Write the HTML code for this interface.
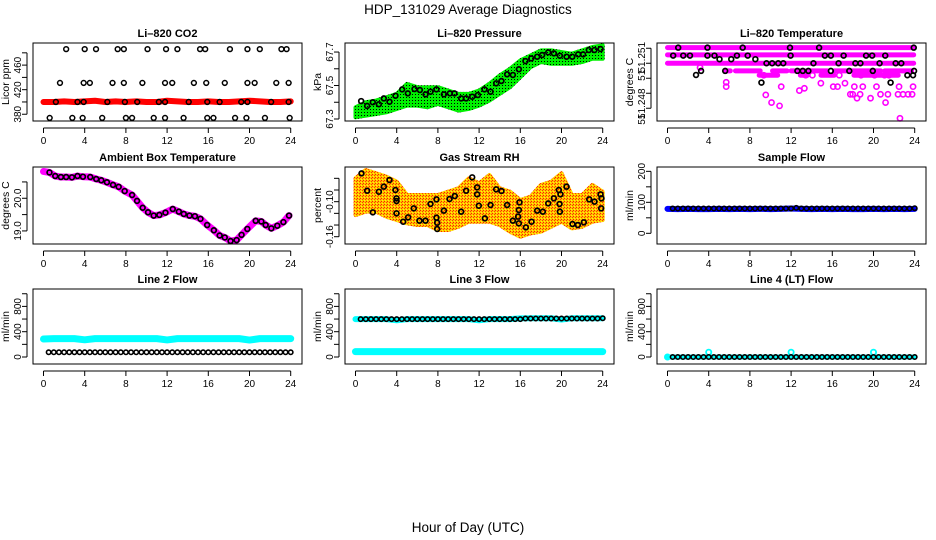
<!DOCTYPE html>
<html><head><meta charset="utf-8"><title>HDP_131029 Average Diagnostics</title>
<style>
html,body{margin:0;padding:0;background:#fff;}
svg{display:block;font-family:"Liberation Sans",sans-serif;}
</style></head>
<body>
<svg id="chart" width="936" height="540" viewBox="0 0 936 540" xmlns="http://www.w3.org/2000/svg">
<defs>
<pattern id="greenDots" width="3" height="3" patternUnits="userSpaceOnUse"><rect width="3" height="3" fill="#00f000"/><rect x="1" y="1" width="1" height="1" fill="#000"/></pattern>
<pattern id="orangeDots" width="3" height="3" patternUnits="userSpaceOnUse"><rect width="3" height="3" fill="#ffc000"/><rect width="1" height="1" fill="#ff2000"/><rect x="2" y="1" width="1" height="1" fill="#ff4000"/><rect x="1" y="2" width="1" height="1" fill="#ffff00"/></pattern>
</defs>
<text x="468" y="14" text-anchor="middle" font-size="13.5">HDP_131029  Average Diagnostics</text>
<text x="468" y="532" text-anchor="middle" font-size="13.5">Hour of Day (UTC)</text>
</svg>
<script>
// ---------- data ----------
const xTicks = [0,4,8,12,16,20,24];
const bandHours = [0,1,2,3,4,5,6,7,8,9,10,11,12,13,14,15,16,17,18,19,20,21,22,23,24];
const sampleHours = [0.5,1,1.5,2,2.5,3,3.5,4,4.5,5,5.5,6,6.5,7,7.5,8,8.5,9,9.5,10,10.5,11,11.5,12,12.5,13,13.5,14,14.5,15,15.5,16,16.5,17,17.5,18,18.5,19,19.5,20,20.5,21,21.5,22,22.5,23,23.5,24];

// Panel 1: CO2
const co2RedVals = [400,400,401,400,401,402,400,401,400,401,400,400,402,401,400,400,401,400,400,401,402,401,400,400,401];
const co2LowH = [0.6,2.8,3.8,5.7,8.0,8.6,10.7,11.8,13.6,15.9,16.5,18.6,19.7,21.5,23.9];
const co2LowV = [374,374,374,374,374,374,374,374,374,374,374,374,374,374,374];
const co2MidH = [1.6,3.9,4.5,6.7,7.8,9.6,11.8,12.5,14.6,15.8,17.6,19.8,20.5,22.6,23.8];
const co2MidV = [431,431,431,431,431,431,431,431,431,431,431,431,431,431,431];
const co2HighH = [2.2,4.0,5.1,7.2,7.8,10.1,11.9,13.0,15.2,15.7,18.1,19.8,21.0,23.1,23.6];
const co2HighV = [486,486,486,486,486,486,486,486,486,486,486,486,486,486,486];
const co2OnH = [1.2,3.3,3.9,6.2,7.9,9.1,11.2,11.8,14.1,15.9,17.1,19.2,19.8,22.1,23.8];
const co2OnV = [400,400,400,400,400,400,400,400,400,400,400,400,400,400,400];
const co2Ticks = [380,400,420,440,460,480];
const co2Labels = ["380","","420","","460",""];

// Panel 2: Pressure
const presUpper = [67.37,67.40,67.41,67.43,67.45,67.51,67.49,67.49,67.49,67.47,67.45,67.45,67.47,67.51,67.56,67.60,67.65,67.68,67.71,67.71,67.70,67.69,67.71,67.73,67.74];
const presLower = [67.31,67.32,67.33,67.34,67.36,67.38,67.38,67.37,67.39,67.37,67.35,67.36,67.38,67.41,67.45,67.49,67.55,67.61,67.64,67.63,67.63,67.63,67.64,67.66,67.66];
const presH = [0.55,1.13,1.68,2.27,2.75,3.30,3.88,4.53,5.08,5.73,6.25,6.80,7.28,7.86,8.58,9.16,9.61,10.26,10.74,11.33,11.88,12.52,13.11,13.66,14.17,14.72,15.28,15.86,16.50,17.06,17.64,18.12,18.71,19.26,19.84,20.49,21.04,21.62,22.10,22.65,23.20,23.79];
const presV = [67.407,67.378,67.40,67.388,67.423,67.403,67.439,67.477,67.453,67.479,67.473,67.447,67.463,67.477,67.447,67.453,67.453,67.423,67.423,67.433,67.443,67.477,67.463,67.513,67.527,67.567,67.563,67.597,67.646,67.662,67.672,67.682,67.698,67.692,67.678,67.672,67.672,67.686,67.686,67.712,67.712,67.718];
const presTicks = [67.3,67.4,67.5,67.6,67.7];
const presLabels = ["67.3","","67.5","","67.7"];

// Panel 3: Li-820 temperature
const tRowLevels = [51.25104,51.25056,51.25];
const tSegLevel = [51.24949,51.24949,51.24949,51.24949,51.24949,51.24949,51.2492,51.2492,51.2492,51.2492];
const tSegStart = [5.6,6.6,10.2,12.0,16.2,21.1,8.9,12.9,14.9,18.1];
const tSegEnd = [6.1,9.0,11.6,15.5,20.7,23.7,10.7,13.6,16.2,22.4];
const tMagH = [3.16,5.70,5.70,9.35,9.54,10.10,10.88,11.04,12.80,13.29,13.42,14.07,14.89,16.09,16.51,16.68,17.23,17.75,17.98,18.14,18.40,18.70,18.96,19.71,20.29,20.68,21.17,21.40,21.50,22.38,22.48,22.57,22.87,23.36,23.75,23.84,18.79,20.10,21.07];
const tMagV = [51.24971,51.24873,51.24844,51.2492,51.24789,51.24738,51.24716,51.24844,51.24818,51.24833,51.2492,51.2492,51.24867,51.24844,51.24844,51.2492,51.24867,51.24793,51.24793,51.24844,51.24767,51.24793,51.24844,51.24767,51.24844,51.24793,51.24738,51.24793,51.2492,51.24793,51.24844,51.24633,51.24793,51.24793,51.24793,51.24844,51.2492,51.2492,51.2492];
const tBlkH = [1.04,0.55,1.53,2.18,2.77,3.26,3.88,3.88,4.56,5.05,5.60,6.19,6.74,7.30,7.79,8.53,9.12,9.61,10.16,10.75,11.24,11.89,11.95,12.61,13.13,13.68,14.17,14.72,15.28,15.86,15.86,16.61,17.10,17.65,18.24,18.73,19.28,19.87,19.93,20.59,21.14,21.66,22.15,22.70,23.29,23.84,23.91,23.94];
const tBlkV = [51.25104,51.25051,51.25051,51.25051,51.24922,51.24949,51.25104,51.25051,51.25051,51.25027,51.24949,51.25027,51.25051,51.25104,51.25051,51.25027,51.24871,51.25,51.25,51.25,51.25,51.25104,51.25051,51.24949,51.24949,51.24949,51.25,51.25104,51.25051,51.25051,51.24949,51.25,51.25051,51.24949,51.25,51.25,51.25051,51.25051,51.24949,51.25,51.25051,51.24871,51.25,51.25,51.2492,51.2492,51.25104,51.24949];
const tTicks = [51.247,51.248,51.249,51.25,51.251];
const tLabelVals = [51.24627,51.2473,51.2492,51.2504];
const tLabels = ["51","51.248","51","51.251"];

// Panel 4: ambient box temperature
const ambH = [0,0.58,1.14,1.69,2.2,2.76,3.3,3.83,4.54,5.12,5.61,6.16,6.75,7.3,7.88,8.6,9.08,9.63,10.15,10.7,11.25,11.84,12.55,13.14,13.62,14.17,14.7,15.24,15.89,16.54,17.1,17.6,18.16,18.75,19.23,19.79,20.6,21.15,21.57,22.12,22.7,23.29,23.84];
const ambV = [20.82,20.79,20.68,20.65,20.65,20.64,20.68,20.66,20.65,20.59,20.55,20.49,20.41,20.35,20.22,20.1,19.92,19.71,19.57,19.47,19.49,19.56,19.67,19.59,19.52,19.47,19.45,19.37,19.18,19.02,18.86,18.8,18.69,18.72,18.88,19.06,19.31,19.29,19.18,19.08,19.16,19.27,19.47];
const ambTicks = [19.0,19.5,20.0,20.5];
const ambLabels = ["19.0","","20.0",""];

// Panel 5: gas stream RH
const rhUpper = [-0.06,-0.0457,-0.0514,-0.0571,-0.0657,-0.0886,-0.0886,-0.0886,-0.0886,-0.0829,-0.0771,-0.06,-0.0686,-0.0543,-0.0771,-0.0829,-0.0971,-0.0914,-0.0714,-0.0657,-0.0514,-0.0886,-0.0886,-0.0714,-0.0829];
const rhLower = [-0.1229,-0.1171,-0.1171,-0.1257,-0.1314,-0.1371,-0.14,-0.14,-0.1486,-0.1486,-0.1429,-0.1343,-0.1343,-0.1343,-0.14,-0.1514,-0.16,-0.1543,-0.1514,-0.1429,-0.1343,-0.1457,-0.1429,-0.1343,-0.1314];
const rhH = [0.58,1.13,1.68,2.27,2.75,3.30,3.88,3.98,3.98,3.98,4.63,5.11,5.66,6.21,6.80,7.28,7.86,7.86,7.93,7.93,8.58,9.13,9.64,10.26,10.74,11.33,11.81,11.81,11.97,12.56,13.11,13.66,14.17,14.72,15.28,15.79,15.86,15.92,15.86,16.54,17.09,17.64,18.19,18.71,19.26,19.74,19.81,19.84,19.90,20.49,21.07,21.59,22.17,22.69,23.20,23.79,23.85,23.88];
const rhV = [-0.0515,-0.0812,-0.1183,-0.0829,-0.0743,-0.0629,-0.08,-0.0943,-0.0989,-0.12,-0.1343,-0.1268,-0.1114,-0.1325,-0.1325,-0.104,-0.096,-0.1274,-0.136,-0.1468,-0.1154,-0.0954,-0.0903,-0.1171,-0.0812,-0.0583,-0.0754,-0.0874,-0.1069,-0.1286,-0.1057,-0.0789,-0.0817,-0.1057,-0.1325,-0.1257,-0.1143,-0.1011,-0.1371,-0.144,-0.1343,-0.1154,-0.1171,-0.1029,-0.0943,-0.08,-0.104,-0.1171,-0.0874,-0.0743,-0.1383,-0.14,-0.1354,-0.096,-0.1,-0.0874,-0.1114,-0.0943];
const rhTicks = [-0.16,-0.14,-0.12,-0.10,-0.08,-0.06];
const rhLabels = ["-0.16","","","-0.10","",""];

// Panel 6: sample flow
const sfBlue = [79,78,79,78,78,79,78,79,78,79,78,79,80,79,78,79,78,79,78,78,79,78,79,78,79];
const sfBlack = [80,80,80,80,80,80,80,80,80,80,80,80,80,80,80,80,80,80,80,80,80,80,80,80,82,80,80,80,80,80,80,80,80,80,80,80,80,80,80,80,80,80,80,80,80,80,80,81];
const sfTicks = [0,50,100,150,200];
const sfLabels = ["0","","100","","200"];

// Panels 7-9: line flows
const flowTicks = [0,200,400,600,800,1000];
const flowLabels = ["0","","400","","800",""];
const l2Cyan = [285,290,290,290,272,290,290,290,290,290,290,290,270,290,290,290,290,290,290,290,268,290,290,290,290];
const l2Black = [75,75,75,75,75,75,75,75,75,75,75,75,75,75,75,75,75,75,75,75,75,75,75,75,75,75,75,75,75,75,75,75,75,75,75,75,75,75,75,75,75,75,75,75,75,75,75,75];
const l3CyanLow = [85,85,85,85,85,85,85,85,85,85,85,85,85,85,85,85,85,85,85,85,85,85,85,85,85];
const l3CyanHigh = [598,598,598,598,580,598,598,598,598,598,598,598,580,598,598,598,610,612,612,612,592,612,612,612,612];
const l3Black = [598,598,598,598,598,598,598,598,598,598,598,598,598,598,598,598,598,598,598,598,598,598,598,598,598,598,598,598,598,598,598,598,608,608,608,608,608,608,608,608,608,608,608,608,608,608,608,612];
const l4Cyan = [0,0,0,0,0,0,0,0,0,0,0,0,0,0,0,0,0,0,0,0,0,0,0,0,0];
const l4SpikeH = [0,4,12,20];
const l4SpikeV = [0,75,75,75];
const l4Black = [0,0,0,0,0,0,0,0,0,0,0,0,0,0,0,0,0,0,0,0,0,0,0,0,0,0,0,0,0,0,0,0,0,0,0,0,0,0,0,0,0,0,0,0,0,0,0,0];

// ---------- drawing ----------
const NS = "http://www.w3.org/2000/svg";
const svg = document.getElementById("chart");
function mk(tag, attrs, parent){const e=document.createElementNS(NS,tag);for(const k in attrs)e.setAttribute(k,attrs[k]);parent.appendChild(e);return e;}

function makePanel(col,row,ylim,title,ytitle,yticks,ylabels,name){
  const left=33+312*col, top=[43,167,289][row], h=[78,77,75][row], w=269;
  const p={left,top,w,h,ylim};
  p.sx=hr=>left+10.5+hr*10.3;
  p.sy=v=>top+h-(v-ylim[0])/(ylim[1]-ylim[0])*h;
  const g=mk('g',{},svg);
  
  
  p.g=g;
  const t=mk('text',{x:left+w/2,y:top-6,'text-anchor':'middle','font-size':11,'font-weight':'bold'},g);
  t.textContent=title;
  
  
  const marks=mk('g',{},g);
  
  
  p.m=marks;
  const ax=mk('g',{},g);
  
  
  const ay=top+h+7;
  mk('line',{x1:p.sx(xTicks[0]),x2:p.sx(xTicks[xTicks.length-1]),y1:ay,y2:ay,stroke:'#000','stroke-width':1},ax);
  xTicks.forEach(v=>{
    mk('line',{x1:p.sx(v),x2:p.sx(v),y1:ay,y2:ay+5,stroke:'#000','stroke-width':1},ax);
    const lt=mk('text',{x:p.sx(v),y:ay+16,'text-anchor':'middle','font-size':10},ax);
    lt.textContent=v;
    
    
  });
  const yx=left-6;
  const yg=mk('g',{},g);
  
  
  mk('line',{x1:yx,x2:yx,y1:p.sy(yticks[0]),y2:p.sy(yticks[yticks.length-1]),stroke:'#000','stroke-width':1},yg);
  yticks.forEach((v,i)=>{
    mk('line',{x1:yx-5,x2:yx,y1:p.sy(v),y2:p.sy(v),stroke:'#000','stroke-width':1},yg);
    if(ylabels && ylabels[i]){
      const yy=p.sy(v);
      const lt=mk('text',{x:0,y:0,transform:`translate(${left-12},${yy}) rotate(-90)`,'text-anchor':'middle','font-size':10},yg);
      lt.textContent=ylabels[i];
      
      
    }
  });
  const yt=mk('text',{x:0,y:0,transform:`translate(${left-24},${top+h/2}) rotate(-90)`,'text-anchor':'middle','font-size':10.5},g);
  yt.textContent=ytitle;
  
  
  const box=mk('rect',{x:left,y:top,width:w,height:h,fill:'none',stroke:'#000','stroke-width':1},g);
  
  
  return p;
}
function circ(p,hr,v,color,r,sw){
  const c=mk('circle',{cx:p.sx(hr),cy:p.sy(v),r:r||2.4,fill:'none',stroke:color,'stroke-width':sw||1.5},p.m);
  
  
}
function band(p,hours,vals,color,width){
  const pts=hours.map((h,i)=>p.sx(h)+','+p.sy(vals[i])).join(' ');
  const l=mk('polyline',{points:pts,fill:'none',stroke:color,'stroke-width':width,'stroke-linecap':'round','stroke-linejoin':'round'},p.m);
  
  
}
function area(p,hours,up,lo,fill){
  const a=hours.map((h,i)=>p.sx(h)+','+p.sy(up[i]));
  const b=hours.map((h,i)=>p.sx(h)+','+p.sy(lo[i])).reverse();
  const poly=mk('polygon',{points:a.concat(b).join(' '),fill:fill,stroke:fill,'stroke-width':4,'stroke-linejoin':'round'},p.m);
  
  
}

const p1=makePanel(0,0,[369,496],"Li\u2013820 CO2","Licor ppm",co2Ticks,co2Labels,"panel-co2");
band(p1,bandHours,co2RedVals,'#ff0000',6);
co2LowH.forEach((h,i)=>circ(p1,h,co2LowV[i],'#000'));
co2MidH.forEach((h,i)=>circ(p1,h,co2MidV[i],'#000'));
co2HighH.forEach((h,i)=>circ(p1,h,co2HighV[i],'#000'));
co2OnH.forEach((h,i)=>circ(p1,h,co2OnV[i],'#000'));

const p2=makePanel(1,0,[67.288,67.754],"Li\u2013820 Pressure","kPa",presTicks,presLabels,"panel-pressure");
area(p2,bandHours,presUpper,presLower,'url(#greenDots)');
presH.forEach((h,i)=>circ(p2,h,presV[i],'#000',2.4,1.7));

const p3=makePanel(2,0,[51.24615,51.25135],"Li\u2013820 Temperature","degrees C",tTicks,null,"panel-li820-temp");
tLabelVals.forEach((v,i)=>{
  const lt=mk('text',{x:0,y:0,transform:`translate(${p3.left-12},${p3.sy(v)}) rotate(-90)`,'text-anchor':'middle','font-size':10},p3.g);
  lt.textContent=tLabels[i];
  
  
});
tRowLevels.forEach(v=>band(p3,[0,23.9],[v,v],'#ff00ff',5));
tSegLevel.forEach((v,i)=>band(p3,[tSegStart[i],tSegEnd[i]],[v,v],'#ff00ff',5));
tMagH.forEach((h,i)=>circ(p3,h,tMagV[i],'#ff00ff',2.6,1.6));
tBlkH.forEach((h,i)=>circ(p3,h,tBlkV[i],'#000',2.4,1.7));

const p4=makePanel(0,1,[18.60,20.957],"Ambient Box Temperature","degrees C",ambTicks,ambLabels,"panel-ambient-temp");
band(p4,ambH,ambV,'#ff00ff',7);
ambH.forEach((h,i)=>{ if(i>0) circ(p4,h,ambV[i],'#000',2.4,1.7); });

const p5=makePanel(1,1,[-0.1725,-0.0406],"Gas Stream RH","percent",rhTicks,rhLabels,"panel-gas-rh");
area(p5,bandHours,rhUpper,rhLower,'url(#orangeDots)');
rhH.forEach((h,i)=>circ(p5,h,rhV[i],'#000',2.4,1.7));

const p6=makePanel(2,1,[-34.5,214],"Sample Flow","ml/min",sfTicks,sfLabels,"panel-sample-flow");
band(p6,bandHours,sfBlue,'#0000ff',6);
sampleHours.forEach((h,i)=>circ(p6,h,sfBlack[i],'#000',2.2,1.6));

const p7=makePanel(0,2,[-110.7,1075],"Line 2 Flow","ml/min",flowTicks,flowLabels,"panel-line2-flow");
band(p7,bandHours,l2Cyan,'#00ffff',7);
sampleHours.forEach((h,i)=>circ(p7,h,l2Black[i],'#000',2.2,1.6));

const p8=makePanel(1,2,[-110.7,1075],"Line 3 Flow","ml/min",flowTicks,flowLabels,"panel-line3-flow");
band(p8,bandHours,l3CyanLow,'#00ffff',7);
band(p8,bandHours,l3CyanHigh,'#00ffff',6);
sampleHours.forEach((h,i)=>circ(p8,h,l3Black[i],'#000',2.2,1.6));

const p9=makePanel(2,2,[-110.7,1075],"Line 4 (LT) Flow","ml/min",flowTicks,flowLabels,"panel-line4-flow");
band(p9,bandHours,l4Cyan,'#00ffff',5);
l4SpikeH.forEach((h,i)=>circ(p9,h,l4SpikeV[i],'#00ffff',2.6,1.8));
sampleHours.forEach((h,i)=>circ(p9,h,l4Black[i],'#000',2.2,1.6));
</script>
</body></html>
